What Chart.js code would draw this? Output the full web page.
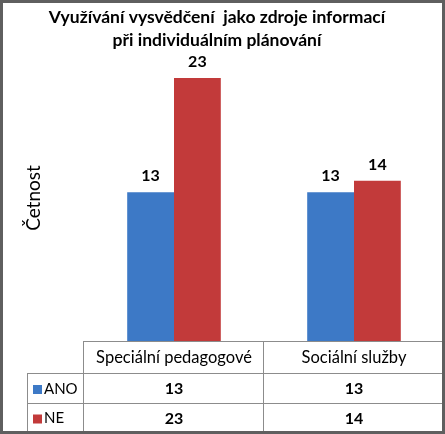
<!DOCTYPE html>
<html>
<head>
<meta charset="utf-8">
<script src="https://cdn.jsdelivr.net/npm/chart.js@4/dist/chart.umd.min.js"></script>
<style>
  html, body { margin: 0; padding: 0; background: #fff; }
  #wrap { width: 445px; height: 434px; }
</style>
</head>
<body>
<div id="wrap"><canvas id="c" width="445" height="434"></canvas></div>
<script>
const titleLines = ['Využívání vysvědčení  jako zdroje informací', 'při individuálním plánování'];
const categories = ['Speciální pedagogové', 'Sociální služby'];
const seriesNames = ['ANO', 'NE'];
const anoValues = [13, 13];
const neValues = [23, 14];
const seriesColors = ['#3d79c6', '#c23a3a'];
const yTitle = 'Četnost';
const yMax = 25;

const FONT = 'Lato, "Noto Sans", sans-serif';

// value labels above each bar
const barLabels = {
  id: 'barLabels',
  afterDatasetsDraw(chart) {
    const ctx = chart.ctx;
    ctx.save();
    ctx.font = 'bold 16px ' + FONT;
    ctx.fillStyle = '#000';
    ctx.textAlign = 'center';
    ctx.textBaseline = 'middle';
    chart.data.datasets.forEach((ds, di) => {
      chart.getDatasetMeta(di).data.forEach((bar, i) => {
        ctx.fillText(ds.data[i], bar.x, bar.y - 16);
      });
    });
    ctx.restore();
  }
};

// title, axis title, data table, frame
const decor = {
  id: 'decor',
  afterDraw(chart) {
    const ctx = chart.ctx;
    const area = chart.chartArea;
    const xs = chart.scales.x;
    const catW = xs.width / categories.length;
    ctx.save();

    ctx.fillStyle = '#000';
    ctx.textAlign = 'center';
    ctx.textBaseline = 'middle';
    ctx.font = 'bold 17.5px ' + FONT;
    ctx.fillText(titleLines[0], 217, 17);
    ctx.fillText(titleLines[1], 217, 40);

    ctx.save();
    ctx.translate(34, 198);
    ctx.rotate(-Math.PI / 2);
    ctx.font = '19px ' + FONT;
    ctx.fillText(yTitle, 0, 0);
    ctx.restore();

    // table grid
    const top = area.bottom;
    const rowH = [32, 30, 29];
    const r1 = top + rowH[0], r2 = r1 + rowH[1], r3 = r2 + rowH[2];
    const legLeft = 27;
    ctx.strokeStyle = '#8c8c8c';
    ctx.lineWidth = 1;
    ctx.beginPath();
    ctx.moveTo(area.left, top + 0.5); ctx.lineTo(area.right, top + 0.5);
    ctx.moveTo(legLeft, r1 + 0.5); ctx.lineTo(area.right, r1 + 0.5);
    ctx.moveTo(legLeft, r2 + 0.5); ctx.lineTo(area.right, r2 + 0.5);
    ctx.moveTo(legLeft + 0.5, r1); ctx.lineTo(legLeft + 0.5, r3);
    for (let i = 0; i <= categories.length; i++) {
      const x = Math.round(area.left + i * catW) - 0.5;
      ctx.moveTo(x, top); ctx.lineTo(x, r3);
    }
    ctx.stroke();

    ctx.font = '16.5px ' + FONT;
    categories.forEach((c, i) => {
      ctx.fillText(c, xs.getPixelForValue(i), top + rowH[0] / 2 + 1);
    });
    const rows = [anoValues, neValues];
    ctx.font = 'bold 16px ' + FONT;
    rows.forEach((vals, r) => {
      const cy = (r === 0 ? r1 + rowH[1] / 2 : r2 + rowH[2] / 2) + 1;
      vals.forEach((v, i) => ctx.fillText(v, xs.getPixelForValue(i), cy));
    });
    ctx.textAlign = 'left';
    ctx.font = '15px ' + FONT;
    seriesNames.forEach((s, r) => {
      const cy = (r === 0 ? r1 + rowH[1] / 2 : r2 + rowH[2] / 2) + 1;
      ctx.fillStyle = seriesColors[r];
      ctx.fillRect(33, cy - 4, 9, 9);
      ctx.fillStyle = '#000';
      ctx.fillText(s, 44, cy);
    });

    // outer frame
    ctx.strokeStyle = '#5f5f5f';
    ctx.lineWidth = 3;
    ctx.strokeRect(1.5, 1.5, chart.width - 3, chart.height - 3);
    ctx.restore();
  }
};

new Chart(document.getElementById('c'), {
  type: 'bar',
  data: {
    labels: categories,
    datasets: [
      { label: seriesNames[0], data: anoValues, backgroundColor: seriesColors[0] },
      { label: seriesNames[1], data: neValues, backgroundColor: seriesColors[1] }
    ]
  },
  options: {
    responsive: false,
    animation: false,
    devicePixelRatio: 1,
    layout: { padding: { left: 84, right: 1, top: 55, bottom: 93 } },
    datasets: { bar: { categoryPercentage: 0.52, barPercentage: 1 } },
    scales: {
      x: { display: false },
      y: { display: false, min: 0, max: yMax }
    },
    plugins: { legend: { display: false }, tooltip: { enabled: false } }
  },
  plugins: [barLabels, decor]
});
</script>
</body>
</html>
